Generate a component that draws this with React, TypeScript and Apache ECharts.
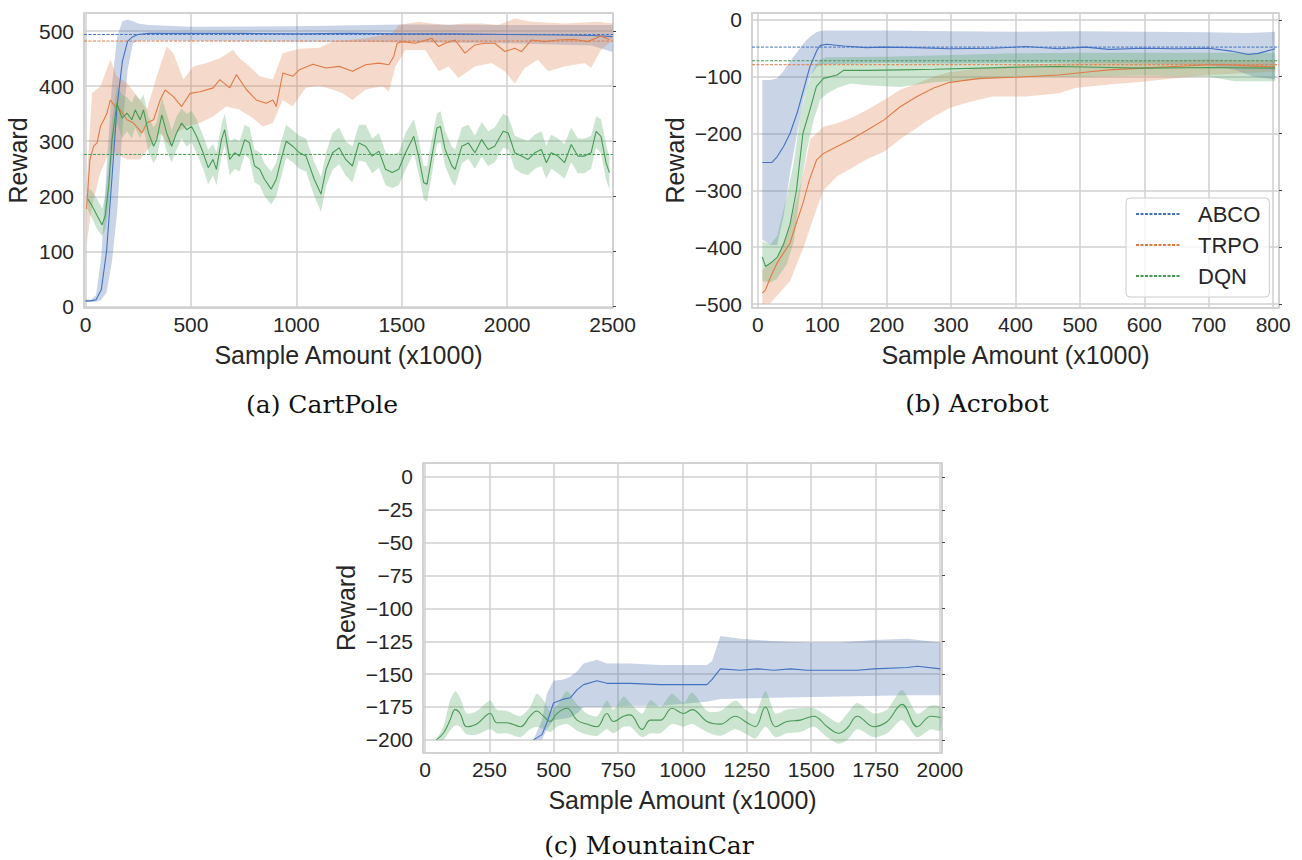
import React, { useEffect, useRef } from 'react';
import * as echarts from 'echarts';

// ---------- tick values ----------
const cartXTicks = [0, 500, 1000, 1500, 2000, 2500];
const cartYTicks = [0, 100, 200, 300, 400, 500];
const acroXTicks = [0, 100, 200, 300, 400, 500, 600, 700, 800];
const acroYTicks = [-500, -400, -300, -200, -100, 0];
const mcarXTicks = [0, 250, 500, 750, 1000, 1250, 1500, 1750, 2000];
const mcarYTicks = [0, -25, -50, -75, -100, -125, -150, -175, -200];

const methods = ['ABCO', 'TRPO', 'DQN'];

// ---------- (a) CartPole ----------
const cartRefs = [494, 482, 276];
const cartAbcoMean = [[0,10],[25,10],[50,12],[75,30],[100,100],[125,230],[150,365],[175,445],[200,482],[225,490],[250,494],[300,496],[500,496],[750,496],[1000,495],[1250,496],[1500,495],[1750,495],[2000,494],[2250,493],[2400,492],[2500,490]];
const cartAbcoHi = [[0,12],[25,12],[50,20],[75,90],[100,250],[125,400],[150,490],[175,518],[200,521],[225,518],[250,514],[300,511],[500,508],[1000,509],[1500,512],[2000,511],[2500,511]];
const cartAbcoLo = [[0,8],[25,8],[50,8],[75,12],[100,25],[125,80],[150,170],[175,320],[200,430],[225,478],[250,482],[300,483],[1000,481],[1500,480],[2000,478],[2400,474],[2500,462]];

const cartTrpoMean = [[5,177],[21,267],[39,291],[55,297],[71,327],[87,339],[102,351],[118,375],[141,363],[165,357],[197,339],[228,333],[268,315],[291,333],[323,339],[354,375],[378,393],[417,381],[456,363],[496,387],[543,390],[606,397],[637,412],[684,397],[716,421],[763,394],[810,375],[857,369],[889,375],[905,363],[936,424],[983,418],[1015,430],[1078,440],[1141,433],[1203,436],[1266,427],[1329,439],[1392,442],[1439,439],[1462,454],[1478,478],[1502,481],[1565,478],[1643,487],[1675,472],[1706,478],[1753,484],[1800,460],[1847,475],[1894,478],[1941,478],[1989,463],[2036,469],[2068,463],[2115,484],[2178,481],[2241,484],[2320,485],[2382,481],[2445,491],[2485,485]];
const cartTrpoHi = [[5,219],[31,387],[71,400],[118,448],[149,418],[197,406],[259,375],[291,357],[338,418],[385,472],[417,460],[464,412],[511,436],[574,442],[637,451],[700,466],[731,451],[778,436],[826,418],[889,412],[935,460],[1014,468],[1109,470],[1171,481],[1329,487],[1455,496],[1486,511],[1580,517],[1643,514],[1722,511],[1800,514],[1879,514],[1957,511],[2036,523],[2115,517],[2272,514],[2430,517],[2500,514]];
const cartTrpoLo = [[5,111],[31,183],[71,243],[118,285],[165,273],[197,267],[259,267],[307,291],[354,315],[401,291],[432,315],[480,327],[542,333],[605,345],[668,363],[731,357],[794,342],[841,327],[889,333],[935,375],[982,363],[1045,397],[1109,401],[1171,394],[1219,387],[1266,375],[1329,394],[1408,400],[1439,390],[1470,436],[1518,466],[1612,466],[1675,427],[1722,436],[1769,415],[1847,436],[1926,442],[1989,427],[2036,405],[2083,433],[2146,448],[2194,427],[2272,436],[2367,442],[2398,433],[2445,466],[2500,484]];

const cartDqnMean = [[11,195],[31,183],[55,165],[79,148],[94,165],[110,219],[126,303],[149,369],[173,342],[197,351],[220,339],[236,357],[259,339],[275,357],[299,315],[323,291],[338,303],[362,348],[385,315],[409,291],[432,315],[456,333],[480,321],[503,327],[527,309],[558,279],[582,252],[605,267],[621,249],[645,303],[660,321],[684,267],[708,279],[731,273],[755,303],[778,297],[802,255],[826,249],[849,231],[881,213],[905,231],[928,267],[952,300],[983,291],[1015,279],[1046,273],[1085,231],[1117,204],[1141,249],[1172,279],[1203,288],[1234,267],[1266,255],[1297,297],[1329,291],[1360,273],[1392,282],[1423,249],[1455,243],[1486,249],[1518,279],[1557,309],[1580,273],[1604,225],[1620,222],[1643,273],[1667,324],[1683,327],[1706,285],[1738,255],[1753,249],[1785,291],[1816,297],[1847,279],[1879,303],[1910,285],[1941,291],[1981,318],[2005,315],[2036,279],[2068,273],[2099,267],[2131,279],[2162,285],[2186,261],[2209,279],[2241,273],[2272,261],[2304,294],[2335,273],[2367,273],[2398,279],[2422,318],[2445,309],[2469,261],[2485,243]];
const cartDqnHi = [[11,215],[31,210],[55,195],[79,178],[94,200],[110,260],[126,340],[149,400],[173,385],[197,380],[220,370],[236,385],[259,375],[275,385],[299,345],[323,325],[338,335],[362,380],[385,350],[409,320],[432,345],[456,360],[480,350],[503,355],[527,340],[558,310],[582,285],[605,295],[621,280],[645,330],[660,350],[684,300],[708,305],[731,300],[755,330],[778,325],[802,285],[826,280],[849,260],[881,245],[905,262],[928,300],[952,330],[983,320],[1015,310],[1046,305],[1085,262],[1117,235],[1141,280],[1172,315],[1203,325],[1234,300],[1266,290],[1297,330],[1329,330],[1360,305],[1392,315],[1423,280],[1455,275],[1486,280],[1518,315],[1557,340],[1580,305],[1604,255],[1620,255],[1643,305],[1667,350],[1683,355],[1706,318],[1738,290],[1753,285],[1785,325],[1816,330],[1847,310],[1879,335],[1910,318],[1941,325],[1981,350],[2005,345],[2036,310],[2068,305],[2099,300],[2131,312],[2162,318],[2186,292],[2209,312],[2241,305],[2272,295],[2304,325],[2335,305],[2367,305],[2398,310],[2422,345],[2445,340],[2469,295],[2485,270]];
const cartDqnLo = [[11,175],[31,160],[55,140],[79,128],[94,140],[110,180],[126,265],[149,335],[173,305],[197,318],[220,305],[236,325],[259,305],[275,325],[299,280],[323,260],[338,270],[362,315],[385,282],[409,262],[432,285],[456,305],[480,290],[503,298],[527,278],[558,250],[582,222],[605,238],[621,220],[645,272],[660,292],[684,238],[708,250],[731,245],[755,275],[778,268],[802,225],[826,220],[849,200],[881,185],[905,200],[928,235],[952,270],[983,262],[1015,250],[1046,245],[1085,200],[1117,172],[1141,218],[1172,248],[1203,258],[1234,238],[1266,225],[1297,265],[1329,262],[1360,242],[1392,252],[1423,220],[1455,215],[1486,220],[1518,248],[1557,278],[1580,242],[1604,195],[1620,190],[1643,240],[1667,295],[1683,298],[1706,255],[1738,225],[1753,218],[1785,260],[1816,268],[1847,250],[1879,272],[1910,255],[1941,262],[1981,288],[2005,285],[2036,250],[2068,242],[2099,238],[2131,250],[2162,255],[2186,232],[2209,250],[2241,242],[2272,232],[2304,262],[2335,242],[2367,242],[2398,250],[2422,288],[2445,278],[2469,230],[2485,212]];

// ---------- (b) Acrobot ----------
const acroRefs = [-48, -79, -72];
const acroAbcoMean = [[7,-251],[22,-251],[30,-241],[40,-223],[50,-200],[61,-164],[71,-123],[81,-82],[92,-53],[97,-45],[107,-43],[133,-46],[168,-49],[194,-48],[245,-49],[297,-51],[364,-50],[416,-47],[467,-51],[509,-48],[545,-52],[597,-50],[648,-51],[700,-50],[735,-55],[761,-61],[777,-59],[803,-51]];
const acroAbcoHi = [[7,-106],[20,-106],[30,-103],[40,-90],[50,-73],[61,-57],[71,-41],[81,-30],[92,-21],[102,-19],[200,-19],[300,-20],[400,-21],[500,-20],[600,-21],[700,-22],[760,-23],[803,-21]];
const acroAbcoLo = [[7,-387],[20,-396],[30,-396],[40,-346],[50,-270],[61,-200],[71,-141],[81,-100],[92,-82],[102,-78],[200,-76],[300,-77],[400,-76],[500,-76],[600,-77],[700,-80],[740,-88],[770,-100],[803,-105]];

const acroTrpoMean = [[7,-481],[12,-475],[20,-452],[30,-428],[40,-410],[50,-393],[60,-357],[70,-323],[80,-282],[91,-247],[102,-235],[123,-223],[144,-211],[170,-194],[196,-176],[221,-153],[247,-135],[273,-120],[298,-110],[345,-103],[400,-101],[467,-97],[519,-91],[545,-88],[597,-85],[648,-82],[700,-79],[725,-79],[803,-83]];
const acroTrpoHi = [[7,-440],[30,-420],[50,-360],[71,-270],[81,-211],[102,-188],[123,-182],[144,-173],[170,-158],[196,-141],[221,-123],[247,-112],[273,-100],[298,-92],[345,-85],[400,-80],[500,-75],[600,-72],[700,-70],[803,-72]];
const acroTrpoLo = [[7,-500],[20,-498],[30,-485],[50,-460],[71,-400],[92,-330],[102,-300],[123,-275],[144,-262],[170,-245],[196,-232],[221,-210],[247,-190],[273,-170],[298,-155],[324,-146],[364,-135],[416,-135],[467,-129],[493,-120],[545,-114],[597,-109],[648,-103],[700,-97],[803,-91]];

const acroDqnMean = [[7,-417],[12,-434],[22,-426],[30,-418],[40,-395],[50,-360],[60,-300],[70,-200],[81,-158],[91,-117],[102,-103],[123,-97],[133,-89],[170,-89],[221,-88],[273,-87],[345,-85],[416,-83],[467,-82],[545,-84],[597,-85],[700,-84],[803,-85]];
const acroDqnHi = [[7,-390],[20,-395],[30,-380],[45,-310],[56,-250],[66,-170],[76,-120],[87,-85],[97,-70],[107,-66],[200,-65],[300,-62],[400,-59],[500,-58],[600,-58],[700,-58],[803,-58]];
const acroDqnLo = [[7,-460],[20,-462],[30,-455],[45,-430],[56,-390],[66,-300],[76,-230],[87,-175],[97,-140],[107,-130],[123,-120],[144,-112],[170,-115],[221,-118],[273,-110],[345,-105],[400,-100],[500,-100],[600,-98],[700,-100],[740,-108],[803,-108]];

// ---------- (c) MountainCar ----------
const mcarAbcoMean = [[421,-200],[454,-196],[473,-187],[499,-172],[538,-169],[564,-168],[590,-162],[616,-158],[668,-155],[706,-157],[797,-157],[914,-158],[966,-158],[1095,-158],[1115,-154],[1147,-146],[1225,-147],[1290,-146],[1355,-147],[1419,-146],[1484,-147],[1614,-147],[1679,-147],[1743,-146],[1873,-145],[1912,-144],[2002,-146]];
const mcarAbcoHi = [[421,-200],[454,-185],[473,-165],[499,-155],[538,-154],[564,-152],[590,-148],[616,-142],[668,-139],[706,-142],[797,-142],[914,-143],[1095,-143],[1115,-140],[1147,-121],[1225,-123],[1355,-125],[1484,-126],[1614,-126],[1743,-124],[1873,-123],[2002,-126]];
const mcarAbcoLo = [[421,-200],[454,-200],[473,-192],[499,-185],[538,-184],[564,-183],[590,-180],[616,-175],[668,-175],[797,-174],[914,-174],[1095,-171],[1147,-169],[1355,-168],[1614,-167],[1873,-166],[2002,-166]];

const mcarDqnMean = [[43,-200],[71,-195],[97,-185],[117,-177],[136,-180],[162,-190],[201,-188],[253,-180],[279,-187],[318,-187],[370,-190],[408,-182],[434,-178],[460,-182],[486,-186],[512,-180],[551,-176],[590,-185],[629,-188],[668,-190],[706,-180],[732,-186],[771,-182],[797,-181],[843,-192],[875,-185],[914,-185],[959,-176],[1004,-180],[1037,-177],[1095,-186],[1147,-188],[1205,-182],[1251,-187],[1283,-190],[1322,-175],[1361,-190],[1406,-186],[1458,-185],[1510,-182],[1562,-190],[1607,-195],[1640,-191],[1679,-182],[1743,-190],[1795,-186],[1853,-173],[1912,-190],[1964,-182],[2002,-183]];
const mcarDqnHi = [[43,-200],[71,-190],[97,-170],[117,-163],[136,-168],[162,-180],[201,-178],[253,-170],[279,-177],[318,-178],[370,-182],[408,-175],[434,-165],[460,-170],[486,-178],[512,-174],[551,-163],[590,-173],[629,-180],[668,-182],[706,-170],[732,-177],[771,-167],[797,-172],[843,-180],[875,-170],[914,-175],[959,-165],[1004,-172],[1037,-164],[1095,-178],[1147,-178],[1205,-170],[1251,-178],[1283,-180],[1322,-163],[1361,-180],[1406,-177],[1458,-176],[1510,-176],[1562,-182],[1607,-187],[1640,-180],[1679,-172],[1743,-180],[1795,-177],[1853,-162],[1912,-180],[1964,-174],[2002,-175]];
const mcarDqnLo = [[43,-200],[71,-200],[97,-193],[117,-189],[136,-190],[162,-196],[201,-196],[253,-192],[279,-195],[318,-195],[370,-198],[408,-192],[434,-190],[460,-192],[486,-194],[512,-190],[551,-188],[590,-193],[629,-196],[668,-197],[706,-192],[732,-195],[771,-190],[797,-190],[843,-198],[875,-195],[914,-195],[959,-188],[1004,-190],[1037,-188],[1095,-194],[1147,-197],[1205,-192],[1251,-196],[1283,-199],[1322,-190],[1361,-198],[1406,-195],[1458,-194],[1510,-190],[1562,-198],[1607,-203],[1640,-200],[1679,-192],[1743,-198],[1795,-195],[1853,-185],[1912,-198],[1964,-192],[2002,-193]];

// ---------- styling ----------
const LINE = ['#4472c0', '#e07a45', '#479a55'];
const BAND = ['rgba(76,114,176,0.3)', 'rgba(221,132,82,0.3)', 'rgba(85,168,104,0.3)'];
const FONT = '"Liberation Sans", Arial, Helvetica, sans-serif';
const TXT = '#262626';
const GRIDC = '#d0d0d0';

type Pt = number[];

function fmt(ticks: number[]) {
  return (v: number) => {
    const r = Math.round(v * 1000) / 1000;
    if (!ticks.some((t) => Math.abs(t - r) < 1e-6)) return '';
    return r < 0 ? '\u2212' + Math.abs(r) : String(r);
  };
}

function buildOption() {
  const panels = [
    { grid: { left: 84, top: 13, width: 529, height: 295 }, x: [-7, 2502, 500], y: [-3, 533, 100], xt: cartXTicks, yt: cartYTicks, yGap: 54 },
    { grid: { left: 752, top: 13, width: 527, height: 295 }, x: [-9, 809, 100], y: [-507, 12, 100], xt: acroXTicks, yt: acroYTicks, yGap: 65 },
    { grid: { left: 423, top: 463, width: 519, height: 290 }, x: [-8, 2008, 250], y: [-210, 10.6, 25], xt: mcarXTicks, yt: mcarYTicks, yGap: 65 },
  ];

  const grids = panels.map((p) => ({ ...p.grid, show: true, borderColor: '#cccccc', borderWidth: 1.5, backgroundColor: 'transparent', containLabel: false, outerBoundsMode: 'none' }));

  const xAxes = panels.map((p, i) => ({
    type: 'value', gridIndex: i, min: p.x[0], max: p.x[1], minInterval: p.x[2], maxInterval: p.x[2],
    name: 'Sample Amount (x1000)', nameLocation: 'middle', nameGap: 34,
    nameTextStyle: { fontSize: 25, color: TXT, fontFamily: FONT },
    axisLine: { show: false }, axisTick: { show: false },
    axisLabel: { formatter: fmt(p.xt), fontSize: 21, color: TXT, fontFamily: FONT, margin: 6, hideOverlap: false },
    splitLine: { show: true, lineStyle: { color: GRIDC, width: 1.5 } },
  }));

  const yLeft = panels.map((p, i) => ({
    type: 'value', gridIndex: i, min: p.y[0], max: p.y[1], minInterval: p.y[2], maxInterval: p.y[2],
    name: 'Reward', nameLocation: 'middle', nameGap: p.yGap,
    nameTextStyle: { fontSize: 25, color: TXT, fontFamily: FONT },
    axisLine: { show: false }, axisTick: { show: false },
    axisLabel: { formatter: fmt(p.yt), fontSize: 21, color: TXT, fontFamily: FONT, margin: 10 },
    splitLine: { show: true, lineStyle: { color: GRIDC, width: 1.5 } },
  }));

  const yRight = panels.map((p, i) => ({
    type: 'value', gridIndex: i, position: 'right', min: p.y[0], max: p.y[1], minInterval: p.y[2], maxInterval: p.y[2],
    axisLine: { show: false },
    axisTick: { show: true, length: 3, customValues: p.yt, lineStyle: { color: '#444', width: 1 } },
    axisLabel: { show: false },
    splitLine: { show: false },
  }));

  const series: any[] = [];

  const band = (gi: number, hi: Pt[], lo: Pt[], color: string, name: string, smooth = 0) => {
    series.push({
      type: 'custom', name, xAxisIndex: gi, yAxisIndex: gi, clip: true, silent: true, z: 1,
      data: hi, encode: { x: 0, y: 1 },
      renderItem: (params: any, api: any) => {
        if (params.dataIndex !== 0) return null;
        const pts = hi.map((p) => api.coord(p)).concat(lo.slice().reverse().map((p) => api.coord(p)));
        return { type: 'polygon', shape: { points: pts, smooth }, style: { fill: color }, silent: true };
      },
    });
  };
  const mean = (gi: number, data: Pt[], color: string, name: string, smooth: number | boolean = false) => {
    series.push({
      type: 'line', name, xAxisIndex: gi, yAxisIndex: gi, data, showSymbol: false, symbol: 'none', smooth,
      lineStyle: { color, width: 1.1 }, itemStyle: { color }, z: 3, silent: true, clip: true,
    });
  };
  const ref = (gi: number, xr: number[], v: number, color: string, name: string) => {
    series.push({
      type: 'line', name, xAxisIndex: gi, yAxisIndex: gi, data: [[xr[0], v], [xr[1], v]], showSymbol: false, symbol: 'none',
      lineStyle: { color, width: 1, type: [3, 1.5] }, itemStyle: { color }, z: 4, silent: true,
    });
  };

  // (b) reference lines first so the legend picks them up
  acroRefs.forEach((v, k) => ref(1, [panels[1].x[0], panels[1].x[1]], v, LINE[k], methods[k]));

  // (a)
  band(0, cartAbcoHi, cartAbcoLo, BAND[0], 'a-abco-band');
  band(0, cartTrpoHi, cartTrpoLo, BAND[1], 'a-trpo-band');
  band(0, cartDqnHi, cartDqnLo, BAND[2], 'a-dqn-band');
  mean(0, cartAbcoMean, LINE[0], 'a-abco');
  mean(0, cartTrpoMean, LINE[1], 'a-trpo');
  mean(0, cartDqnMean, LINE[2], 'a-dqn');
  cartRefs.forEach((v, k) => ref(0, [panels[0].x[0], panels[0].x[1]], v, LINE[k], 'a-ref-' + methods[k]));

  // (b)
  band(1, acroAbcoHi, acroAbcoLo, BAND[0], 'b-abco-band');
  band(1, acroTrpoHi, acroTrpoLo, BAND[1], 'b-trpo-band');
  band(1, acroDqnHi, acroDqnLo, BAND[2], 'b-dqn-band');
  mean(1, acroAbcoMean, LINE[0], 'b-abco');
  mean(1, acroTrpoMean, LINE[1], 'b-trpo');
  mean(1, acroDqnMean, LINE[2], 'b-dqn');

  // (c)
  band(2, mcarAbcoHi, mcarAbcoLo, BAND[0], 'c-abco-band');
  band(2, mcarDqnHi, mcarDqnLo, BAND[2], 'c-dqn-band', 0.25);
  mean(2, mcarAbcoMean, LINE[0], 'c-abco');
  mean(2, mcarDqnMean, LINE[2], 'c-dqn', 0.4);

  const caption = (x: number, y: number, text: string) => ({
    type: 'text', x, y, silent: true,
    style: { text, fontSize: 25, fontFamily: '"DejaVu Serif", "Liberation Serif", serif', fill: '#111', textAlign: 'center', textVerticalAlign: 'middle' },
  });

  return {
    animation: false,
    backgroundColor: '#ffffff',
    grid: grids,
    xAxis: xAxes,
    yAxis: [...yLeft, ...yRight],
    legend: {
      show: true, orient: 'vertical', left: 1126, top: 198,
      data: methods, selectedMode: false,
      itemWidth: 44, itemHeight: 2, itemGap: 9,
      itemStyle: { opacity: 0, borderWidth: 0 },
      padding: [5, 9, 10, 9],
      borderColor: '#cccccc', borderWidth: 1, borderRadius: 4,
      backgroundColor: 'rgba(255,255,255,0.8)',
      textStyle: { fontSize: 22, color: TXT, fontFamily: FONT, lineHeight: 22, padding: [0, 0, 0, 13] },
    },
    series,
    graphic: [
      caption(322, 404, '(a) CartPole'),
      caption(977, 403, '(b) Acrobot'),
      caption(649, 845, '(c) MountainCar'),
    ],
  };
}

export default function App() {
  const ref = useRef<HTMLDivElement>(null);
  useEffect(() => {
    document.body.style.margin = '0';
    const chart = echarts.init(ref.current as HTMLDivElement, undefined, { renderer: 'svg' });
    chart.setOption(buildOption() as any);
    return () => chart.dispose();
  }, []);
  return <div ref={ref} style={{ width: 1302, height: 860 }} />;
}
